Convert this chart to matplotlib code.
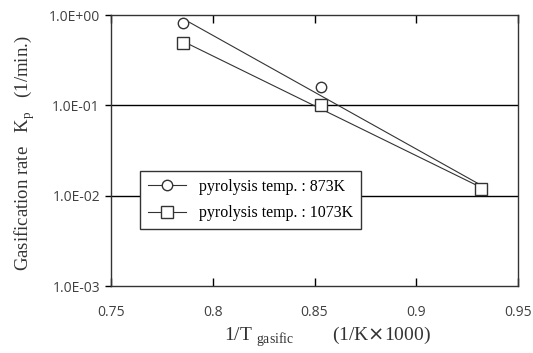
import numpy as np
import matplotlib.pyplot as plt

# 1/T of gasification (1/K x 1000) and gasification rate Kp (1/min.)
inv_t = [0.7855, 0.853, 0.932]
kp_873 = [0.81, 0.158, 0.0118]
kp_1073 = [0.486, 0.100, 0.0118]
series_labels = ['pyrolysis temp. : 873K', 'pyrolysis temp. : 1073K']
x_ticks = [0.75, 0.8, 0.85, 0.9, 0.95]
y_ticks = [1e-3, 1e-2, 1e-1, 1e0]
y_tick_labels = ['1.0E-03', '1.0E-02', '1.0E-01', '1.0E+00']

serif = ['Liberation Serif', 'DejaVu Serif']
tick_font = 'Open Sans'


def log_fit(x, y):
    """Straight line fit of log10(y) against x, evaluated at the end points"""
    x = np.asarray(x)
    slope, icpt = np.polyfit(x, np.log10(y), 1)
    xs = np.array([x.min(), x.max()])
    return xs, 10 ** (slope * xs + icpt)


fig = plt.figure(figsize=(5.33, 3.53), dpi=100)
ax = fig.add_axes([0.2083, 0.1898, 0.7636, 0.7677])

ax.set_yscale('log')
ax.set_xlim(0.75, 0.95)
ax.set_ylim(1e-3, 1e0)

# horizontal grid at each decade
for yv in y_ticks[1:-1]:
    ax.axhline(yv, color='black', lw=1.0, zorder=1)

handles = []
for kp, mk, ms, lab in [(kp_873, 'o', 7.5, series_labels[0]),
                        (kp_1073, 's', 8.5, series_labels[1])]:
    fx, fy = log_fit(inv_t, kp)
    ax.plot(fx, fy, color='#333333', lw=0.8, zorder=2)
    ax.plot(inv_t, kp, linestyle='none', marker=mk, ms=ms, mfc='white',
            mec='#333333', mew=1.0, zorder=3)
    h, = ax.plot([], [], color='#333333', lw=0.8, marker=mk, ms=ms,
                 mfc='white', mec='#333333', mew=1.0, label=lab)
    handles.append(h)

ax.set_xticks(x_ticks)
ax.set_xticklabels([f'{v:g}' for v in x_ticks], fontfamily=tick_font,
                   fontsize=10, color='#404040')
ax.set_yticks(y_ticks)
ax.set_yticklabels(y_tick_labels, fontfamily=tick_font, fontsize=10,
                   color='#404040')
ax.yaxis.set_minor_locator(plt.NullLocator())

ax.tick_params(axis='x', direction='in', top=True, length=6, width=1,
               pad=14)
ax.tick_params(axis='y', direction='out', length=4, width=1, pad=4)
for sp in ax.spines.values():
    sp.set_linewidth(1.0)
    sp.set_color('#333333')

leg = ax.legend(handles=handles, loc='upper left',
                bbox_to_anchor=(140 / 533, 1 - 171 / 353),
                bbox_transform=fig.transFigure, borderaxespad=0,
                frameon=True, fancybox=False,
                edgecolor='#333333', framealpha=1, handlelength=2.4,
                handletextpad=0.8, borderpad=0.5, labelspacing=0.65,
                prop={'family': serif, 'size': 11.5})
leg.get_frame().set_linewidth(1.0)
leg.set_zorder(5)

fig.text(0.047, 0.565, r'Gasification rate   K$_{\mathregular{p}}$   (1/min.)',
         rotation=90, ha='center', va='center', fontfamily=serif,
         fontsize=13.5, color='#333333')
fig.text(0.615, 0.045, r'1/T $_{\mathregular{gasific}}$        (1/K$\times$1000)',
         ha='center', va='center', fontfamily=serif, fontsize=14,
         color='#333333')

fig.savefig('out.png', dpi=100)
